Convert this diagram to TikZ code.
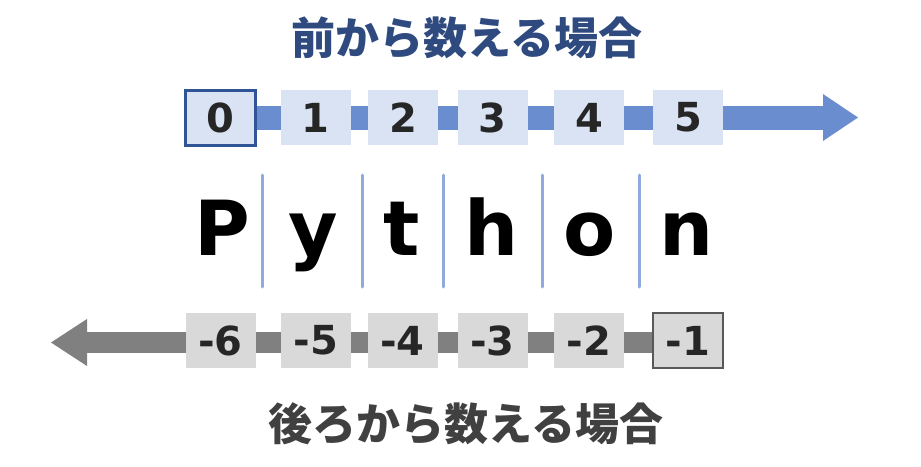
\documentclass[tikz,border=0pt]{standalone}
\usepackage{fontspec}
\setmainfont{DejaVu Sans}
\newfontfamily\jpfont{Noto Sans CJK JP}
\usetikzlibrary{positioning,arrows.meta,backgrounds}
\definecolor{FwdFill}{RGB}{218, 227, 243}
\definecolor{FwdEdge}{RGB}{47, 85, 151}
\definecolor{FwdArrow}{RGB}{106, 141, 208}
\definecolor{FwdTitle}{RGB}{46, 74, 126}
\definecolor{SepBlue}{RGB}{143, 170, 220}
\definecolor{BwdFill}{RGB}{217, 217, 217}
\definecolor{BwdEdge}{RGB}{89, 89, 89}
\definecolor{BwdArrow}{RGB}{128, 128, 128}
\definecolor{BwdTitle}{RGB}{64, 64, 64}
\definecolor{NumText}{RGB}{38, 38, 38}
\newcommand{\fwdbox}[3]{
    \node(#1)[
        fill=FwdFill,
        minimum width=70pt,
        minimum height=55pt,
        inner sep=0pt,
        text=NumText,
        font=\fontsize{40}{44}\selectfont\bfseries,
        #2
    ]{#3};
}
\newcommand{\bwdbox}[3]{
    \node(#1)[
        fill=BwdFill,
        minimum width=70pt,
        minimum height=55pt,
        inner sep=0pt,
        text=NumText,
        font=\fontsize{40}{44}\selectfont\bfseries,
        #2
    ]{#3};
}
\newcommand{\letter}[3]{
    \node(#1)[
        anchor=base,
        inner sep=0pt,
        font=\fontsize{76}{80}\selectfont\bfseries,
        #2
    ]{#3};
}

\begin{document}
\begin{tikzpicture}[x=1pt, y=-1pt]
	\useasboundingbox (0,0) rectangle (921,466);
	
	\node (fwd title) [text=FwdTitle, font={\jpfont\bfseries\fontsize{44}{48}\selectfont}] at (467,38) {前から数える場合};
	
	\fwdbox{f0}{at={(220.5,117.5)}, draw=FwdEdge, line width=3pt}{0}
	\fwdbox{f1}{at={(315.5,117.5)}}{1}
	\fwdbox{f2}{at={(403,117.5)}}{2}
	\fwdbox{f3}{at={(492.5,117.5)}}{3}
	\fwdbox{f4}{at={(589,117.5)}}{4}
	\fwdbox{f5}{at={(688,117.5)}}{5}
	
	\coordinate (fwd end) at (858,117.5);
	
	\letter{lP}{at={(222,255)}}{P}
	\letter{ly}{at={(313,255)}}{y}
	\letter{lt}{at={(402,255)}}{t}
	\letter{lh}{at={(492,255)}}{h}
	\letter{lo}{at={(590,255)}}{o}
	\letter{ln}{at={(687,255)}}{n}
	
	\draw[line width=3pt, color=SepBlue, line cap=round] (262,175) -- (262,287);
	\draw[line width=3pt, color=SepBlue, line cap=round] (362,175) -- (362,287);
	\draw[line width=3pt, color=SepBlue, line cap=round] (443,175) -- (443,287);
	\draw[line width=3pt, color=SepBlue, line cap=round] (542,175) -- (542,287);
	\draw[line width=3pt, color=SepBlue, line cap=round] (639,175) -- (639,287);
	
	\bwdbox{b6}{at={(220.5,340.5)}}{-6}
	\bwdbox{b5}{at={(316,340.5)}}{-5}
	\bwdbox{b4}{at={(402.5,340.5)}}{-4}
	\bwdbox{b3}{at={(492.5,340.5)}}{-3}
	\bwdbox{b2}{at={(589,340.5)}}{-2}
	\bwdbox{b1}{at={(688,340.5)}, draw=BwdEdge, line width=2pt}{-1}
	
	\coordinate (bwd end) at (51,342.5);
	
	\node (bwd title) [text=BwdTitle, font={\jpfont\bfseries\fontsize{44}{48}\selectfont}] at (466,424) {後ろから数える場合};
	
	\begin{scope}[on background layer]
	\draw[-{Triangle[length=35pt, width=47pt, line width=0pt]}, line width=24pt, color=FwdArrow] (f0.center) -- (fwd end);
	\draw[-{Triangle[length=36pt, width=47pt, line width=0pt]}, line width=21pt, color=BwdArrow] ([yshift=-2pt]b1.center) -- (bwd end);
	\end{scope}
\end{tikzpicture}
\end{document}
